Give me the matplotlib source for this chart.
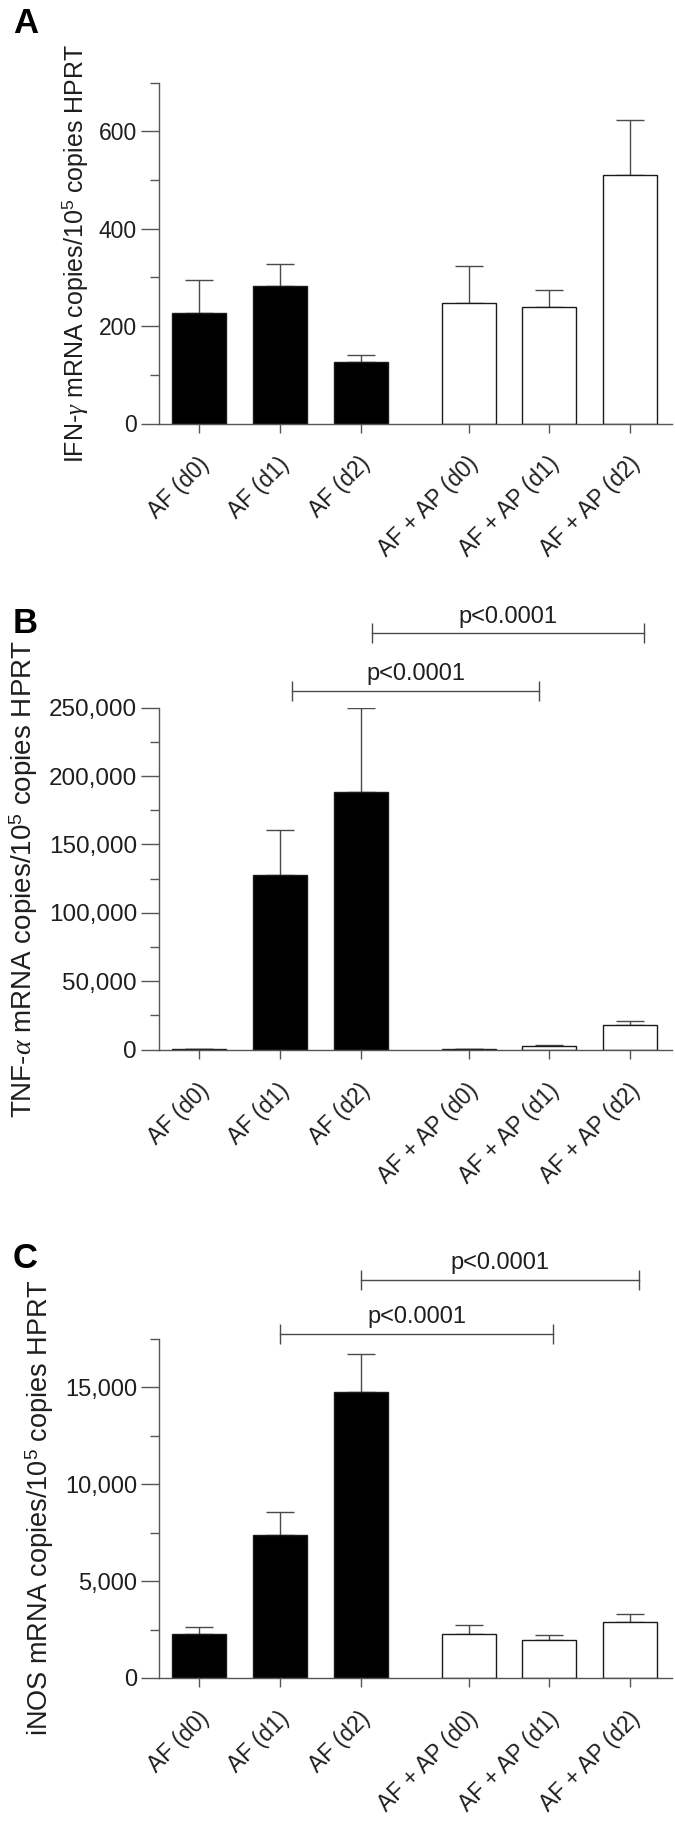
import numpy as np
import matplotlib
matplotlib.use("Agg")
import matplotlib.pyplot as plt
from matplotlib.ticker import MultipleLocator, FuncFormatter
from matplotlib.transforms import ScaledTranslation

plt.rcParams['font.family'] = ['Liberation Sans', 'DejaVu Sans']
plt.rcParams['mathtext.fontset'] = 'custom'
plt.rcParams['mathtext.rm'] = 'Liberation Sans'
plt.rcParams['mathtext.it'] = 'Liberation Serif:italic'

# ---------------- data ----------------
categories = ['AF (d0)', 'AF (d1)', 'AF (d2)', 'AF + AP (d0)', 'AF + AP (d1)', 'AF + AP (d2)']
is_treated = [False, False, False, True, True, True]

ifn_mean = [226, 282, 127, 247, 239, 510]
ifn_err = [68, 45, 14, 76, 35, 114]

tnf_mean = [500, 127500, 188000, 400, 2700, 18300]
tnf_err = [100, 33000, 61500, 100, 700, 2600]

inos_mean = [2255, 7360, 14740, 2288, 1980, 2886]
inos_err = [358, 1195, 1960, 427, 257, 410]

# significance brackets: (x start, x end, y level, text)
tnf_brackets = [(1.144, 4.207, 262200, 'p<0.0001'), (2.135, 5.50, 304300, 'p<0.0001')]
inos_brackets = [(0.998, 4.378, 17760, 'p<0.0001'), (1.997, 5.444, 20545, 'p<0.0001')]

ifn_label = r'IFN-$\gamma$ mRNA copies/10$^5$ copies HPRT'
tnf_label = r'TNF-$\alpha$ mRNA copies/10$^5$ copies HPRT'
inos_label = r'iNOS mRNA copies/10$^5$ copies HPRT'

# ---------------- layout ----------------
W, H = 675, 1825
fig = plt.figure(figsize=(W / 100, H / 100), dpi=100)

group_gap = 0.333
positions = [i + (group_gap if t else 0) for i, t in enumerate(is_treated)]

axis_col = '#555555'
text_col = '#1e1e1e'


def px_rect(left, top, right, bottom):
    return [left / W, 1 - bottom / H, (right - left) / W, (bottom - top) / H]


def panel(rect, means, errs, ylim, major, minor, tick_fs, fmt, brackets=()):
    ax = fig.add_axes(rect)
    colors = ['white' if t else 'black' for t in is_treated]
    ax.bar(positions, means, width=0.667, color=colors, edgecolor='#1a1a1a',
           linewidth=1.0, zorder=2)
    ax.errorbar(positions, means, yerr=[np.zeros(len(errs)), errs], fmt='none',
                ecolor='#4a4a4a', elinewidth=1.0, capsize=10, capthick=1.0, zorder=1)
    ax.set_xlim(-0.495, 5.846)
    ax.set_ylim(*ylim)
    for s in ['top', 'right']:
        ax.spines[s].set_visible(False)
    for s in ['left', 'bottom']:
        ax.spines[s].set_color(axis_col)
        ax.spines[s].set_linewidth(1.0)
    ax.yaxis.set_major_locator(MultipleLocator(major))
    ax.yaxis.set_minor_locator(MultipleLocator(minor))
    ax.yaxis.set_major_formatter(FuncFormatter(fmt))
    ax.tick_params(axis='y', which='major', length=12.7, width=1.0, color=axis_col,
                   labelsize=tick_fs, labelcolor=text_col, pad=3.4)
    ax.tick_params(axis='y', which='minor', length=6.7, width=1.0, color=axis_col)
    ax.set_xticks(positions)
    ax.set_xticklabels(categories, rotation=45, ha='right', va='center',
                       rotation_mode='anchor', fontsize=16.5, color=text_col)
    ax.tick_params(axis='x', length=6.7, width=1.0, color=axis_col, pad=20)
    off = ScaledTranslation(6 / 100, 0, fig.dpi_scale_trans)
    for lab in ax.get_xticklabels():
        lab.set_transform(lab.get_transform() + off)
    for x0, x1, y, txt in brackets:
        ax.plot([x0, x1], [y, y], color='#4a4a4a', lw=1.0, clip_on=False)
        ax.plot([x0, x1], [y, y], ls='none', marker='|', ms=13.7, mew=1.0,
                color='#4a4a4a', clip_on=False)
        ax.annotate(txt, xy=((x0 + x1) / 2, y), xytext=(0, 7.5),
                    textcoords='offset points', ha='center', va='baseline',
                    fontsize=17, color=text_col, annotation_clip=False)
    return ax


plain = lambda v, p: f'{v:.0f}'
comma = lambda v, p: f'{v:,.0f}'

axA = panel(px_rect(159.3, 82.5, 671.7, 423.5), ifn_mean, ifn_err, (0, 700), 200, 100, 16.5, plain)
axB = panel(px_rect(159.3, 707.6, 671.7, 1049.7), tnf_mean, tnf_err, (0, 250000), 50000, 25000, 17.5,
            comma, tnf_brackets)
axC = panel(px_rect(159.3, 1338.8, 671.7, 1678), inos_mean, inos_err, (0, 17500), 5000, 2500, 17,
            comma, inos_brackets)

# y labels
for xb, yc, lab, fs in [(83.3, 253, ifn_label, 18), (32, 878.6, tnf_label, 20), (48, 1508, inos_label, 19.5)]:
    fig.text(xb / W, 1 - yc / H, lab, rotation=90, rotation_mode='anchor', ha='center',
             va='baseline', fontsize=fs, color=text_col)

# panel letters
for yb, letter in [(33, 'A'), (633, 'B'), (1268, 'C')]:
    fig.text(13 / W, 1 - yb / H, letter, fontsize=25, fontweight='bold', ha='left',
             va='baseline', color='black')

fig.savefig('out.png', dpi=100, facecolor='white')
